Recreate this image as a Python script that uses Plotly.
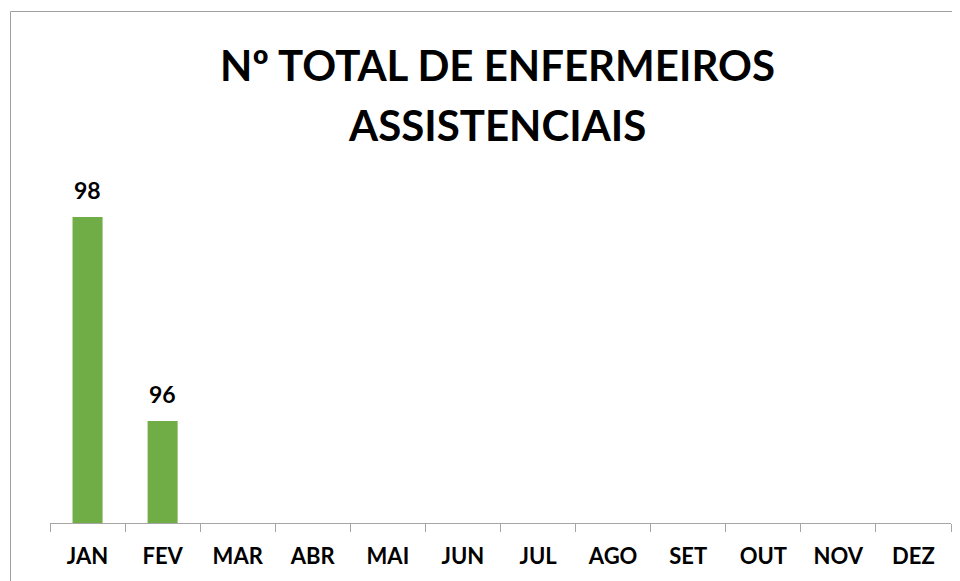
import plotly.graph_objects as go

months = ["JAN", "FEV", "MAR", "ABR", "MAI", "JUN", "JUL", "AGO", "SET", "OUT", "NOV", "DEZ"]
values = [98, 96, None, None, None, None, None, None, None, None, None, None]
title_lines = ["Nº TOTAL DE ENFERMEIROS", "ASSISTENCIAIS"]
axis_min, axis_max = 95, 100

FONT = "Lato"
GREEN = "#70AD47"

# page body has an 8px margin; work in reference pixel coords and shift
OFF = 8
W, H = 960 - OFF, 581 - OFF
L, R, T, B = 50 - OFF, 9, 13 - OFF, 58
PW, PH = W - L - R, H - T - B

def px(rx):
    return (rx - OFF - L) / PW

def py(ry):
    return (H - B - (ry - OFF)) / PH

fig = go.Figure()
fig.add_trace(go.Bar(
    x=months, y=[(v - axis_min) if v is not None else None for v in values],
    base=axis_min, marker=dict(color=GREEN, line=dict(width=0)),
    width=0.4, hoverinfo="skip",
))

annotations = []
for m, v in zip(months, values):
    if v is not None:
        annotations.append(dict(
            x=m, y=v, xref="x", yref="y", text=str(v), showarrow=False,
            yanchor="bottom", yshift=11,
            font=dict(family=FONT, size=23, color="#000000", weight="bold"),
        ))
for line, ry in zip(title_lines, [65, 125]):
    annotations.append(dict(
        x=px(497), y=py(ry), xref="paper", yref="paper", text=line, showarrow=False,
        xanchor="center", yanchor="middle",
        font=dict(family=FONT, size=42, color="#000000", weight="bold"),
    ))

frame = dict(color="#A0A0A0", width=1)
fig.update_layout(
    width=W, height=H,
    margin=dict(l=L, r=R, t=T, b=B),
    paper_bgcolor="white", plot_bgcolor="white",
    showlegend=False,
    annotations=annotations,
    xaxis=dict(
        type="category", categoryorder="array", categoryarray=months,
        showline=True, linecolor="#A6A6A6", linewidth=1,
        ticks="outside", tickson="boundaries", ticklen=8, tickcolor="#A6A6A6",
        ticklabelstandoff=14,
        tickfont=dict(family=FONT, size=22, color="#000000", weight="bold"),
        showgrid=False, zeroline=False, range=[-0.5, 11.5],
    ),
    yaxis=dict(
        range=[axis_min, axis_max], visible=False, showgrid=False, zeroline=False,
    ),
    shapes=[
        dict(type="line", xref="paper", yref="paper",
             x0=px(10.5), x1=px(960), y0=py(11.5), y1=py(11.5), line=frame, layer="below"),
        dict(type="line", xref="paper", yref="paper",
             x0=px(10.5), x1=px(10.5), y0=py(11.5), y1=py(581), line=frame, layer="below"),
    ],
)

fig.write_html("out.html")
